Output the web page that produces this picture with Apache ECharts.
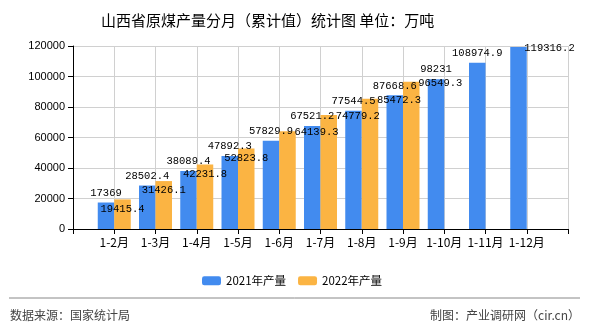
<!DOCTYPE html>
<html><head><meta charset="utf-8">
<script src="https://cdn.jsdelivr.net/npm/echarts@6/dist/echarts.min.js"></script>
<style>html,body{margin:0;padding:0;background:#fff}#c{width:590px;height:330px}</style>
</head><body><div id="c"></div>
<script>
var categories = ['1-2月','1-3月','1-4月','1-5月','1-6月','1-7月','1-8月','1-9月','1-10月','1-11月','1-12月'];
var prod2021 = [17369, 28502.4, 38089.4, 47892.3, 57829.9, 67521.2, 77544.5, 87668.6, 98231, 108974.9, 119316.2];
var prod2022 = [19415.4, 31426.1, 42231.8, 52823.8, 64139.3, 74779.2, 85472.3, 96549.3];
var seriesNames = ['2021年产量', '2022年产量'];
var yTicks = [0, 20000, 40000, 60000, 80000, 100000, 120000];

var axisCats = [''].concat(categories).concat(['']);
function pad(arr){ var out=[null]; for (var i=0;i<categories.length;i++){ out.push(i<arr.length?arr[i]:null);} out.push(null); return out; }

var labelFont = {fontFamily:'Liberation Mono', fontSize:10.5, color:'#000'};
var chart = echarts.init(document.getElementById('c'));
chart.setOption({
  animation:false,
  title:{text:'山西省原煤产量分月（累计值）统计图 单位：万吨', left:96, top:8,
    textStyle:{fontFamily:'Noto Sans CJK SC', fontSize:15, fontWeight:'normal', color:'#000'}},
  legend:{data:seriesNames, left:197, top:270, itemWidth:19, itemHeight:9, itemGap:12,
    textStyle:{fontFamily:'Noto Sans CJK SC', fontSize:11.5, color:'#000'}},
  grid:{left:73, right:22, top:46, bottom:101},
  xAxis:{type:'category', data:axisCats, boundaryGap:false,
    axisLine:{lineStyle:{color:'#000'}}, axisTick:{show:true, lineStyle:{color:'#000'}, interval:0},
    axisLabel:{interval:0, fontFamily:'Noto Sans CJK SC', fontSize:12, color:'#000', margin:7},
    splitLine:{show:true, interval:0, lineStyle:{color:'#d0d0d0'}}},
  yAxis:{type:'value', min:yTicks[0], max:yTicks[yTicks.length-1], interval:yTicks[1]-yTicks[0],
    axisLine:{show:true, lineStyle:{color:'#000'}}, axisTick:{show:true, lineStyle:{color:'#000'}},
    axisLabel:{fontFamily:'Liberation Sans', fontSize:11, color:'#000', margin:8, formatter:function(v){return String(v);}},
    splitLine:{lineStyle:{color:'#d0d0d0'}}},
  series:[
    {name:seriesNames[0], type:'bar', data:pad(prod2021), barWidth:'40%', barGap:'0%',
     itemStyle:{color:'#428bef'},
     label:Object.assign({show:true, position:'top', distance:4}, labelFont),
     labelLayout:function(p){ if(p.dataIndex===categories.length){ return {dx:31, dy:11}; } return {}; }},
    {name:seriesNames[1], type:'bar', data:pad(prod2022), barWidth:'40%',
     itemStyle:{color:'#fbb443'},
     label:Object.assign({show:true, position:'top', distance:4}, labelFont),
     labelLayout:function(p){ if(p.dataIndex<=4){ return {dy:19}; } return {dx:29, dy:11}; }}
  ],
  graphic:[
    {type:'line', shape:{x1:9,y1:298,x2:580,y2:298}, style:{stroke:'#888', lineWidth:1}},
    {type:'text', left:10, top:309, style:{text:'数据来源：国家统计局', fontFamily:'Noto Sans CJK SC', fontSize:12, fill:'#444'}},
    {type:'text', right:10, top:309, style:{text:'制图：产业调研网（cir.cn）', fontFamily:'Noto Sans CJK SC', fontSize:12, fill:'#444'}}
  ]
});
</script></body></html>
